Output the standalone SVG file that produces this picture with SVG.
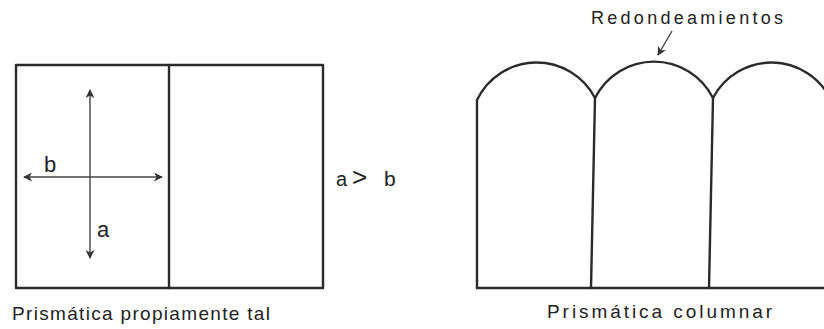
<svg xmlns="http://www.w3.org/2000/svg" width="824" height="329" viewBox="0 0 824 329">
<style>
.ln{fill:none;stroke:#2a2a2a;stroke-width:2.4;stroke-linecap:round;stroke-linejoin:round}
.th{fill:none;stroke:#444;stroke-width:1.4}
.t{font-family:"Liberation Sans",Arial,sans-serif;fill:#222}
</style>
<defs>
<marker id="ah" viewBox="0 0 10 10" refX="9" refY="5" markerWidth="9" markerHeight="9" markerUnits="userSpaceOnUse" orient="auto-start-reverse">
<path d="M0,0 L10,5 L0,10 L3,5 Z" fill="#333"/>
</marker>
</defs>
<rect width="824" height="329" fill="#fff"/>
<g id="prismatica-propiamente">
<rect class="ln" x="16" y="65" width="307" height="223"/>
<line class="ln" x1="169" y1="65" x2="169" y2="288"/>
<text class="t" x="12" y="320" font-size="19" textLength="258" lengthAdjust="spacing">Prismática propiamente tal</text>
</g>
<g id="ejes">
<line class="th" x1="90" y1="90" x2="90" y2="258" marker-start="url(#ah)" marker-end="url(#ah)"/>
<line class="th" x1="24" y1="177" x2="162" y2="177" marker-start="url(#ah)" marker-end="url(#ah)"/>
<text class="t" x="44" y="172" font-size="22">b</text>
<text class="t" x="97" y="237" font-size="22">a</text>
</g>
<g id="relacion">
<text class="t" x="336" y="186" font-size="20">a</text>
<text class="t" x="352" y="186" font-size="26" font-weight="300">&gt;</text>
<text class="t" x="384" y="186" font-size="21">b</text>
</g>
<g id="prismatica-columnar">
<path class="ln" d="M477,288 L477,100 A66,66 0 0 1 595,98 A66,66 0 0 1 713,98 A66,66 0 0 1 831,100"/>
<line class="ln" x1="477" y1="288" x2="824" y2="288"/>
<line class="ln" x1="595" y1="98" x2="591" y2="288"/>
<line class="ln" x1="713" y1="98" x2="709" y2="288"/>
<text class="t" x="547" y="318" font-size="19" textLength="225" lengthAdjust="spacing">Prismática columnar</text>
</g>
<g id="connectors">
<line class="th" x1="672" y1="31" x2="658" y2="55" marker-end="url(#ah)"/>
<text class="t" x="591" y="24" font-size="18" textLength="192" lengthAdjust="spacing">Redondeamientos</text>
</g>
</svg>
